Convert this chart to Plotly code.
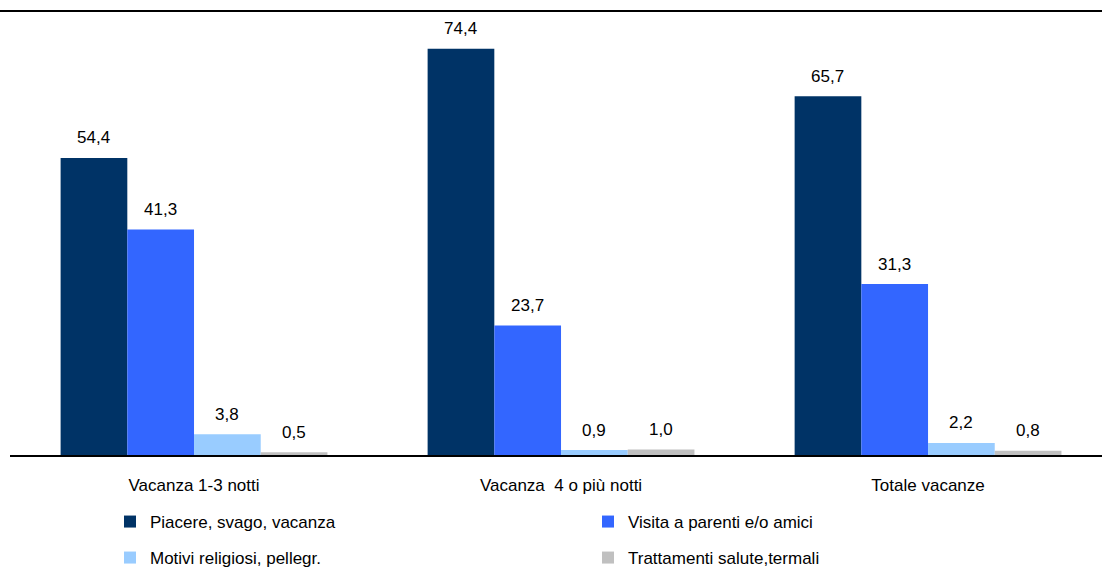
import plotly.graph_objects as go

categories = ["Vacanza 1-3 notti", "Vacanza  4 o più notti", "Totale vacanze"]
series_names = ["Piacere, svago, vacanza", "Visita a parenti e/o amici",
                "Motivi religiosi, pellegr.", "Trattamenti salute,termali"]
piacere = [54.4, 74.4, 65.7]
visita = [41.3, 23.7, 31.3]
religiosi = [3.8, 0.9, 2.2]
salute = [0.5, 1.0, 0.8]
series_values = [piacere, visita, religiosi, salute]
colors = ["#003366", "#3366FF", "#99CCFF", "#C0C0C0"]
legend_ids = ["legend", "legend", "legend2", "legend2"]

W, H = 1102, 570
ML, MR, MT, MB = 10, 0, 11, 115
bargap = 0.273
FONT = "Liberation Sans, Arial, sans-serif"
FS = 17

fig = go.Figure()
for name, vals, col, lg in zip(series_names, series_values, colors, legend_ids):
    fig.add_trace(go.Bar(x=categories, y=vals, name=name, marker=dict(color=col, line=dict(width=0)),
                         legend=lg, hoverinfo="x+y+name"))

# data labels above bars
plot_w = W - ML - MR
plot_h = H - MT - MB
xr = [-0.5014, 2.474]
px_per_cat = plot_w / (xr[1] - xr[0])
bar_w = px_per_cat * (1 - bargap) / len(series_values)
annotations = []
for i, vals in enumerate(series_values):
    off = (i - (len(series_values) - 1) / 2) * bar_w
    for c, v in zip(categories, vals):
        annotations.append(dict(x=c, y=v, xref="x", yref="y", text=f"{v:.1f}".replace(".", ","),
                                showarrow=False, xshift=off, yshift=20, yanchor="middle",
                                font=dict(family=FONT, size=FS, color="black")))

leg_common = dict(orientation="h", xanchor="left", yanchor="middle",
                  entrywidth=433, entrywidthmode="pixels", itemclick=False,
                  font=dict(family=FONT, size=FS, color="black"), bgcolor="rgba(0,0,0,0)")

fig.update_layout(
    width=W, height=H,
    margin=dict(l=ML, r=MR, t=MT, b=MB, autoexpand=False),
    paper_bgcolor="white", plot_bgcolor="white",
    barmode="group", bargap=bargap, bargroupgap=0,
    separators=",.",
    font=dict(family=FONT, size=FS, color="black"),
    annotations=annotations,
    xaxis=dict(range=xr, showline=True, linecolor="black", linewidth=1.5,
               ticks="", ticklabelstandoff=14, showgrid=False, zeroline=False,
               tickfont=dict(family=FONT, size=FS, color="black")),
    yaxis=dict(range=[0, 81.3], visible=False, showgrid=False, zeroline=False),
    legend=dict(x=(110 - ML) / plot_w, y=-(522 - (H - MB)) / plot_h, **leg_common),
    legend2=dict(x=(110 - ML) / plot_w, y=-(558 - (H - MB)) / plot_h, **leg_common),
    shapes=[dict(type="line", xref="paper", yref="paper", x0=-ML / plot_w, x1=1, y0=1, y1=1,
                 line=dict(color="black", width=2.2))],
)

fig.write_html("out.html", config={"displayModeBar": False},
               post_script="document.body.style.margin='0';")
